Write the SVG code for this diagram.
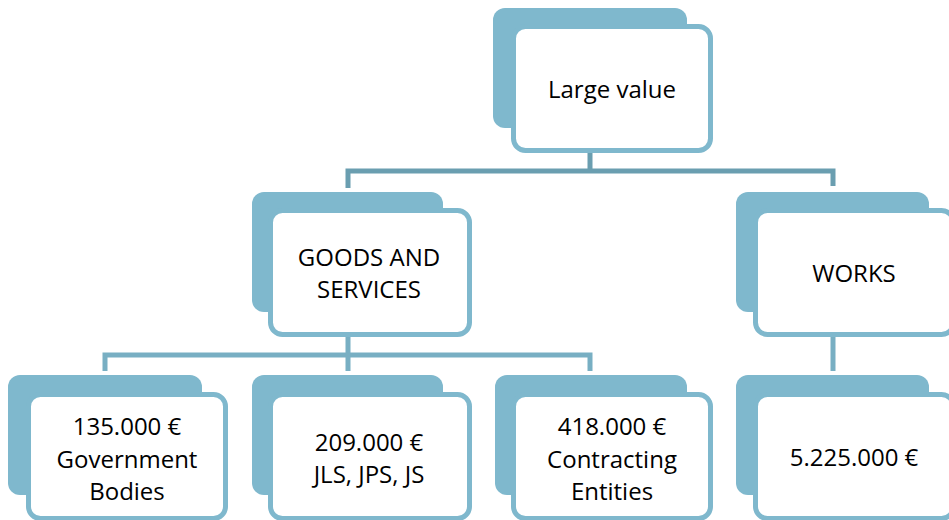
<svg xmlns="http://www.w3.org/2000/svg" width="949" height="520" viewBox="0 0 949 520">
<style>
.back{fill:#7fb8cd}
.front{fill:#ffffff;stroke:#7fb8cd;stroke-width:5}
.lbl{font-family:"Open Sans","Liberation Sans",sans-serif;font-size:24px;fill:#000;text-anchor:middle}
.c1{fill:none;stroke:#6a9eb0;stroke-width:5}
.c2{fill:none;stroke:#78afc3;stroke-width:5}
</style>
<rect width="949" height="520" fill="#fff"/>
<g id="connectors">
<path class="c1" d="M590,153 V171 M348,188 V171 H833 V186"/>
<path class="c2" d="M348,337 V355 M105,371 V355 H590 V371 M348,355 V371"/>
<path class="c2" d="M833,337 V371"/>
</g>
<g id="n-large">
<rect class="back" x="493" y="8" width="194" height="120" rx="12"/>
<rect class="front" x="513.5" y="26.5" width="197" height="124" rx="12"/>
<text class="lbl" x="612" y="98">Large value</text>
</g>
<g id="n-goods">
<rect class="back" x="252" y="192" width="191" height="120" rx="12"/>
<rect class="front" x="270.5" y="210.5" width="199" height="124" rx="12"/>
<text class="lbl" x="369" y="266">GOODS AND</text>
<text class="lbl" x="369" y="298">SERVICES</text>
</g>
<g id="n-works">
<rect class="back" x="736" y="192" width="193" height="120" rx="12"/>
<rect class="front" x="755.5" y="210.5" width="198" height="124" rx="12"/>
<text class="lbl" x="854" y="282">WORKS</text>
</g>
<g id="n-135">
<rect class="back" x="8" y="375" width="194" height="120" rx="12"/>
<rect class="front" x="28.5" y="394.5" width="197" height="124" rx="12"/>
<text class="lbl" x="127" y="435">135.000 €</text>
<text class="lbl" x="127" y="468">Government</text>
<text class="lbl" x="127" y="500">Bodies</text>
</g>
<g id="n-209">
<rect class="back" x="252" y="375" width="191" height="120" rx="12"/>
<rect class="front" x="270.5" y="394.5" width="199" height="124" rx="12"/>
<text class="lbl" x="369" y="451">209.000 €</text>
<text class="lbl" x="369" y="483">JLS, JPS, JS</text>
</g>
<g id="n-418">
<rect class="back" x="495" y="375" width="192" height="120" rx="12"/>
<rect class="front" x="513.5" y="394.5" width="197" height="124" rx="12"/>
<text class="lbl" x="612" y="435">418.000 €</text>
<text class="lbl" x="612" y="468">Contracting</text>
<text class="lbl" x="612" y="500">Entities</text>
</g>
<g id="n-5225">
<rect class="back" x="736" y="375" width="193" height="120" rx="12"/>
<rect class="front" x="755.5" y="394.5" width="198" height="124" rx="12"/>
<text class="lbl" x="854" y="466">5.225.000 €</text>
</g>
</svg>
